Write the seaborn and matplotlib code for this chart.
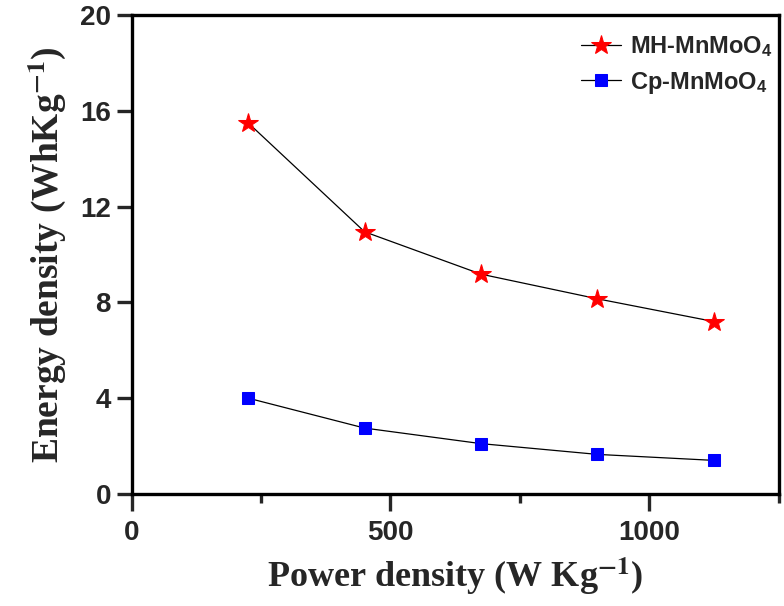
import matplotlib
matplotlib.use("Agg")
import matplotlib.pyplot as plt
from matplotlib import font_manager
from matplotlib.ticker import MultipleLocator
import seaborn as sns

# data
power = [225, 450, 675, 900, 1125]
energy_mh = [15.5, 10.95, 9.18, 8.15, 7.2]
energy_cp = [4.0, 2.75, 2.1, 1.65, 1.4]
series_labels = ["MH-MnMoO$_4$", "Cp-MnMoO$_4$"]

sns.set_style("ticks")
plt.rcParams["mathtext.fontset"] = "custom"
plt.rcParams["mathtext.rm"] = "Liberation Sans:bold"
plt.rcParams["mathtext.it"] = "Liberation Sans:bold"
plt.rcParams["mathtext.bf"] = "Liberation Sans:bold"

installed = {f.name for f in font_manager.fontManager.ttflist}
narrow = "Liberation Sans Narrow" in installed

fig = plt.figure(figsize=(7.84, 6.06), dpi=100)
ax = fig.add_axes([0.168, 0.185, 0.825, 0.79])

sns.lineplot(x=power, y=energy_mh, ax=ax, color="black", linewidth=0.9,
             marker="*", markersize=15, markerfacecolor="red",
             markeredgecolor="red", label=series_labels[0])
sns.lineplot(x=power, y=energy_cp, ax=ax, color="black", linewidth=0.9,
             marker="s", markersize=9, markerfacecolor="blue",
             markeredgecolor="blue", label=series_labels[1])

ax.set_xlim(0, 1250)
ax.set_ylim(0, 20)
ax.xaxis.set_major_locator(MultipleLocator(500))
ax.xaxis.set_minor_locator(MultipleLocator(250))
ax.yaxis.set_major_locator(MultipleLocator(4))

for side in ["top", "right", "bottom", "left"]:
    ax.spines[side].set_visible(True)
    ax.spines[side].set_linewidth(2.4)
    ax.spines[side].set_color("black")

ax.tick_params(axis="x", which="major", direction="out", length=12, width=2.4, pad=7)
ax.tick_params(axis="x", which="minor", direction="out", length=6.5, width=2.4)
ax.tick_params(axis="y", which="major", direction="out", length=11, width=2.4, pad=4)

tick_family = "Liberation Sans Narrow" if narrow else "Liberation Sans"
tick_size = 24 if narrow else 20
for lab in ax.get_xticklabels() + ax.get_yticklabels():
    lab.set_fontfamily(tick_family)
    lab.set_fontweight("bold")
    lab.set_fontsize(tick_size)

ax.set_xlabel(r"Power density (W Kg$^{\mathbf{-1}}$)", fontsize=26,
              fontfamily="Liberation Serif", fontweight="bold",
              math_fontfamily="stix", labelpad=6)
ax.set_ylabel(r"Energy density (WhKg$^{\mathbf{-1}}$)", fontsize=27,
              fontfamily="Liberation Serif", fontweight="bold",
              math_fontfamily="stix", labelpad=8)

leg = ax.legend(loc="upper right", bbox_to_anchor=(1.013, 0.99), frameon=False,
                prop={"family": "Liberation Sans", "weight": "bold", "size": 17},
                handlelength=1.7, handletextpad=0.4, labelspacing=0.45,
                borderaxespad=0.2)

fig.savefig("out.png", dpi=100)
